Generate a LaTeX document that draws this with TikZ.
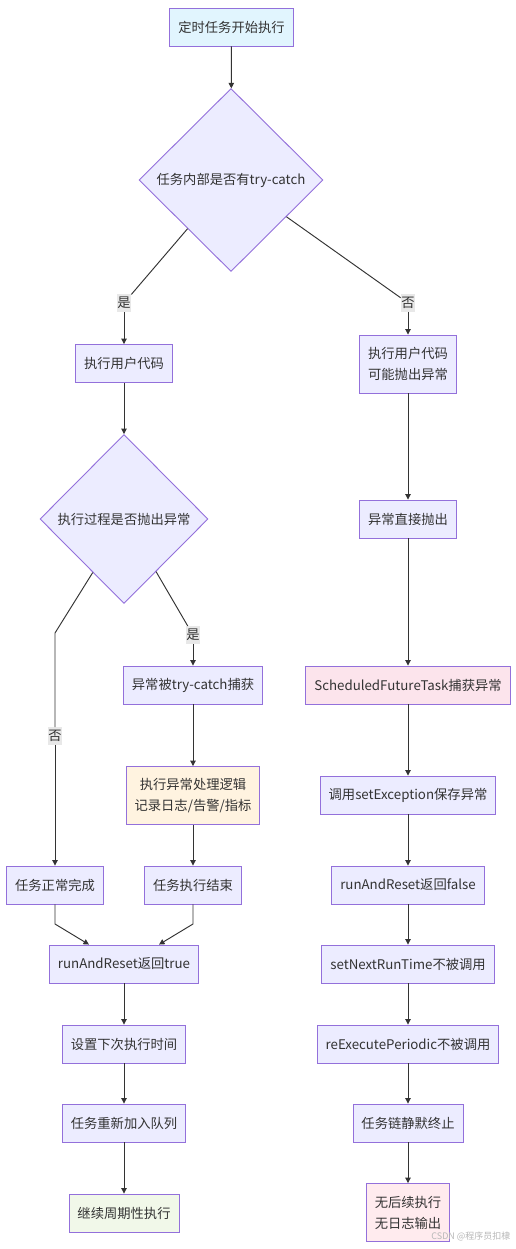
\documentclass[tikz,border=0pt]{standalone}
\usepackage{fontspec}
\setmainfont{Noto Sans CJK SC}
\usetikzlibrary{shapes.geometric,arrows.meta,calc}
\definecolor{nfill}{HTML}{ECECFF}
\definecolor{nborder}{HTML}{9370DB}
\definecolor{edgec}{HTML}{333333}
\definecolor{lblbg}{HTML}{E8E8E8}
\definecolor{startfill}{HTML}{E1F5FE}
\definecolor{orangefill}{HTML}{FFF3E0}
\definecolor{pinkfill}{HTML}{FCE4EC}
\definecolor{redfill}{HTML}{FFEBEE}
\definecolor{greenfill}{HTML}{F1F8E9}
\definecolor{txt}{HTML}{333333}
\tikzset{
  every node/.style={font=\fontsize{13.3}{21}\selectfont, text=txt},
  box/.style={rectangle, draw=nborder, fill=nfill, line width=0.9pt, minimum height=38pt, inner xsep=8.5pt, inner ysep=4pt, align=center},
  twoline/.style={box, minimum height=58pt},
  decision/.style={diamond, draw=nborder, fill=nfill, line width=0.9pt, inner sep=0pt, align=center},
  arr/.style={draw=edgec, line width=0.95pt, -{Triangle[length=5.5pt,width=5.5pt]}},
  ln/.style={draw=edgec, line width=0.95pt},
  lbl/.style={fill=lblbg, inner xsep=0.5pt, inner ysep=3pt},
}
\begin{document}
\begin{tikzpicture}[x=1pt,y=-1pt]
\useasboundingbox[fill=white] (0,0) rectangle (515,1249);
% nodes
\node[box, fill=startfill] (start) at (231.5,27) {定时任务开始执行};
\node[decision, minimum width=184pt, minimum height=183pt] (d1) at (231,180) {任务内部是否有try-catch};
\node[box] (exec1) at (124,363.5) {执行用户代码};
\node[decision, minimum width=168pt, minimum height=169pt] (d2) at (124,519) {执行过程是否抛出异常};
\node[box] (caught) at (193,685) {异常被try-catch捕获};
\node[twoline, fill=orangefill] (handle) at (193,795.5) {执行异常处理逻辑\\记录日志/告警/指标};
\node[box] (endtask) at (193,885) {任务执行结束};
\node[box] (normal) at (55,885) {任务正常完成};
\node[box] (rtrue) at (124,964) {runAndReset返回true};
\node[box] (setnext) at (124,1044) {设置下次执行时间};
\node[box] (requeue) at (124,1123) {任务重新加入队列};
\node[box, fill=greenfill] (cont) at (124,1213) {继续周期性执行};

\node[twoline] (exec2) at (408,364) {执行用户代码\\可能抛出异常};
\node[box] (throw) at (408,519) {异常直接抛出};
\node[box, fill=pinkfill] (sft) at (408,685) {ScheduledFutureTask捕获异常};
\node[box] (setex) at (408,795) {调用setException保存异常};
\node[box] (rfalse) at (408,885) {runAndReset返回false};
\node[box] (nonext) at (408,964) {setNextRunTime不被调用};
\node[box] (noreexec) at (408,1044) {reExecutePeriodic不被调用};
\node[box] (silent) at (408,1123) {任务链静默终止};
\node[twoline, fill=redfill] (nolog) at (408,1212.5) {无后续执行\\无日志输出};

% labels
\node[lbl] (lyes1) at (124,303) {是};
\node[lbl] (lno1) at (408,303) {否};
\node[lbl] (lyes2) at (193,635) {是};
\node[lbl] (lno2) at (55,736) {否};

\coordinate (k1) at (55,633);
\coordinate (m1) at (55,924);
\coordinate (m2) at (193,924);

% edges
\draw[arr] (start) -- (d1);
\draw[ln] ($(d1.west)!0.53!(d1.south)$) -- (lyes1);
\draw[arr] (lyes1) -- (exec1);
\draw[ln] ($(d1.east)!0.4!(d1.south)$) -- (lno1);
\draw[arr] (lno1) -- (exec2);
\draw[arr] (exec1) -- (d2);
\draw[ln] ($(d2.west)!0.63!(d2.south)$) -- (k1) -- (lno2);
\draw[arr] (lno2) -- (normal);
\draw[ln] ($(d2.east)!0.62!(d2.south)$) -- (lyes2);
\draw[arr] (lyes2) -- (caught);
\draw[arr] (caught) -- (handle);
\draw[arr] (handle) -- (endtask);
\draw[arr] (normal) -- (m1) -- ($(rtrue.north)+(-35,0)$);
\draw[arr] (endtask) -- (m2) -- ($(rtrue.north)+(35,0)$);
\draw[arr] (rtrue) -- (setnext);
\draw[arr] (setnext) -- (requeue);
\draw[arr] (requeue) -- (cont);

\draw[arr] (exec2) -- (throw);
\draw[arr] (throw) -- (sft);
\draw[arr] (sft) -- (setex);
\draw[arr] (setex) -- (rfalse);
\draw[arr] (rfalse) -- (nonext);
\draw[arr] (nonext) -- (noreexec);
\draw[arr] (noreexec) -- (silent);
\draw[arr] (silent) -- (nolog);

\node[font=\fontsize{9}{11}\selectfont, text=black!28, anchor=east] (wm) at (514,1236) {CSDN @程序员扣棣};
\end{tikzpicture}
\end{document}
